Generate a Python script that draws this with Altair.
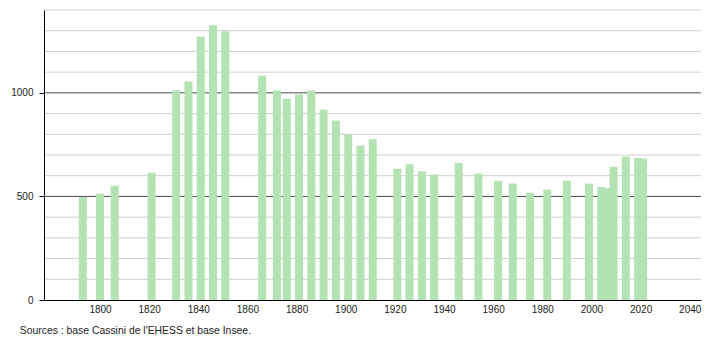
import altair as alt
import pandas as pd

# Census years and population
years = [1793, 1800, 1806, 1821, 1831, 1836, 1841, 1846, 1851, 1866, 1872, 1876,
         1881, 1886, 1891, 1896, 1901, 1906, 1911, 1921, 1926, 1931, 1936, 1946,
         1954, 1962, 1968, 1975, 1982, 1990, 1999, 2004, 2006, 2009, 2014, 2019, 2021]
population = [497, 513, 552, 614, 1013, 1055, 1271, 1326, 1298, 1082, 1011, 971,
              992, 1011, 919, 867, 798, 746, 777, 634, 655, 622, 606, 661,
              611, 576, 563, 518, 534, 576, 563, 545, 539, 643, 693, 686, 682]

x_ticks = [1800, 1820, 1840, 1860, 1880, 1900, 1920, 1940, 1960, 1980, 2000, 2020, 2040]
y_ticks = [0, 500, 1000]
grid_minor = [100, 200, 300, 400, 600, 700, 800, 900, 1100, 1200, 1300, 1400]
grid_major = [500, 1000]
source = "Sources : base Cassini de l'EHESS et base Insee."

df = pd.DataFrame({"annee": years, "pop": population})
grid_df = pd.DataFrame({
    "v": grid_minor + grid_major,
    "kind": ["minor"] * len(grid_minor) + ["major"] * len(grid_major),
})

W, H = 657, 290
xscale = alt.Scale(domain=[1779.24, 2042.56], nice=False, zero=False)
yscale = alt.Scale(domain=[0, 1400], nice=False)

yaxis = alt.Axis(values=y_ticks, format="d", title=None, grid=False,
                 tickSize=5, tickColor="#000", labelPadding=6,
                 labelFontSize=10, labelColor="#222",
                 labelFont="Liberation Sans",
                 domainColor="#000", zindex=1)

grid = alt.Chart(grid_df).mark_rule(strokeWidth=1).encode(
    y=alt.Y("v:Q", scale=yscale, axis=yaxis),
    color=alt.Color("kind:N", scale=alt.Scale(domain=["minor", "major"],
                                              range=["#cfcfcf", "#4a4a4a"]),
                    legend=None),
)

bars = alt.Chart(df).mark_bar(size=8, color="#b3e3b3").encode(
    x=alt.X("annee:Q", scale=xscale,
            axis=alt.Axis(values=x_ticks, format="d", title=None, grid=False,
                          ticks=False, labelPadding=4, labelFontSize=10,
                          labelColor="#222", labelFont="Liberation Sans",
                          domainColor="#000", zindex=1)),
    y=alt.Y("pop:Q", scale=yscale, axis=yaxis),
)

chart = alt.layer(grid, bars).properties(
    width=W, height=H,
    autosize=alt.AutoSizeParams(type="none"),
    padding={"left": 44, "top": 10, "right": 9, "bottom": 40},
    title=alt.TitleParams(source, orient="bottom", anchor="start", fontSize=10.4,
                          fontWeight="normal", font="Liberation Sans",
                          color="#222", dx=9, offset=12),
).configure_view(stroke=None)

chart.save("out.html", embed_options={"renderer": "svg", "actions": False})
